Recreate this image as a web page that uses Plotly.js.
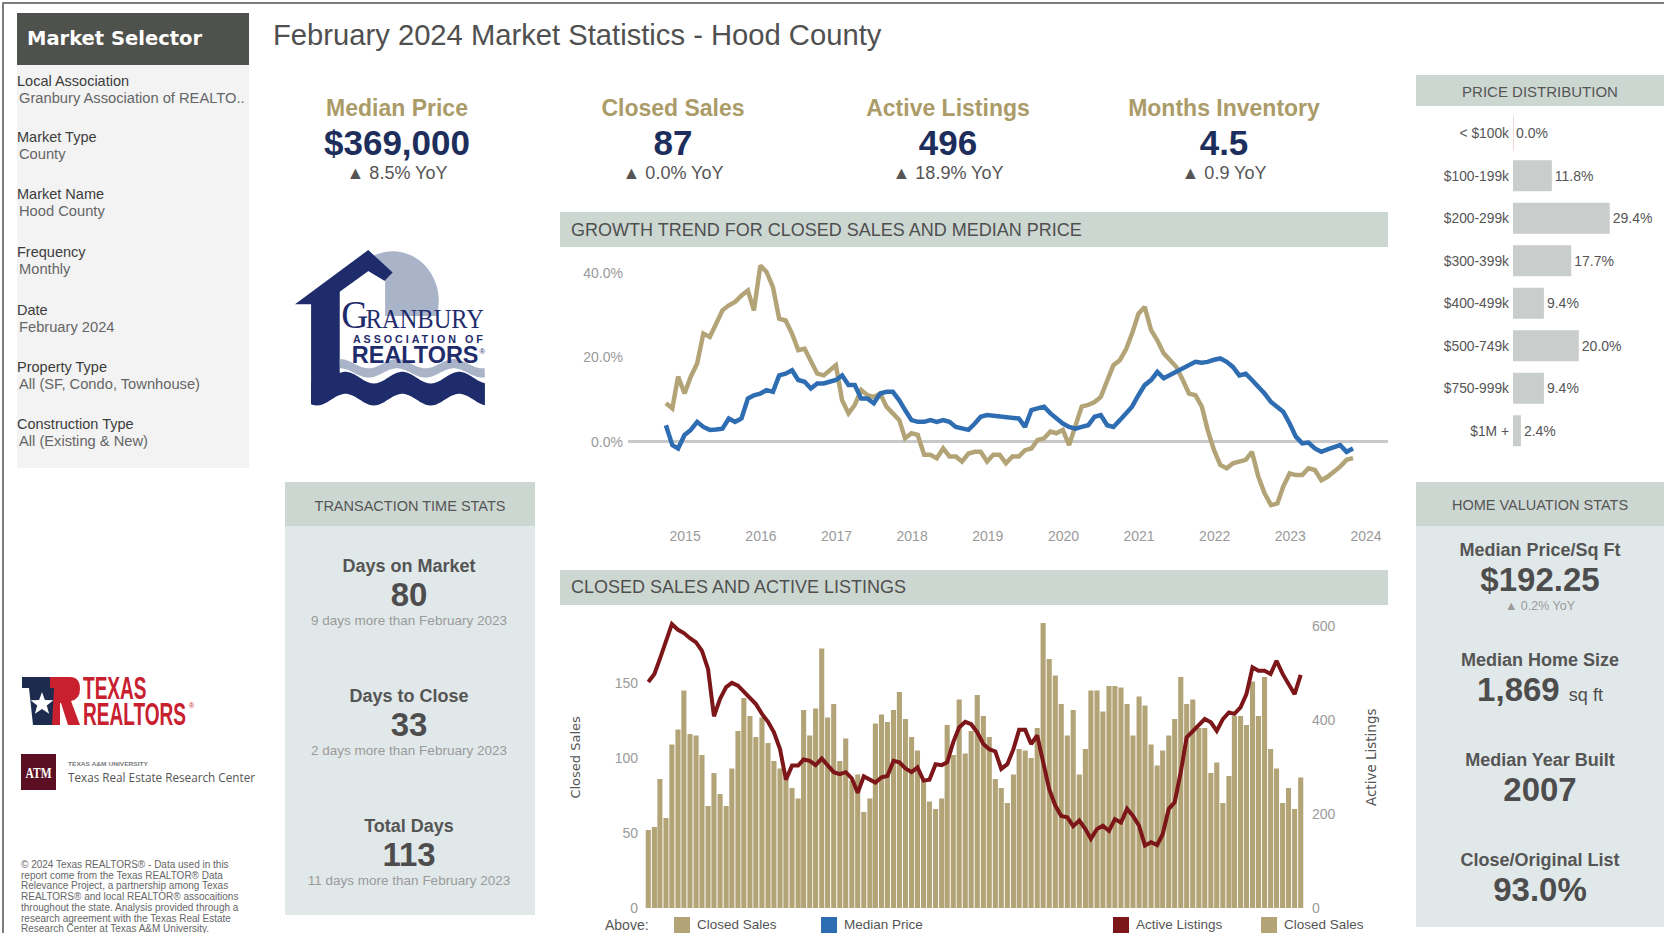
<!DOCTYPE html>
<html>
<head>
<meta charset="utf-8">
<script src="https://cdn.plot.ly/plotly-3.0.1.min.js"></script>
<style>
  body { margin: 0; background: #fff; }
  #page { position: relative; width: 1664px; height: 933px; overflow: hidden; font-family: Arial, "Liberation Sans", sans-serif; background: #fff; }
  .t { position: absolute; white-space: nowrap; line-height: 1; }
  .c { transform: translate(-50%, -50%); }
  .l { transform: translate(0, -50%); }
  .box { position: absolute; }
  .chart { position: absolute; }
  .fit { position: absolute; white-space: pre; transform-origin: 0 0; overflow: visible; }
</style>
</head>
<body>
<div id="page"></div>
<script>
// ------------------------------------------------------------------ data
const sidebarLabels = ["Local Association", "Market Type", "Market Name", "Frequency", "Date", "Property Type", "Construction Type"];
const sidebarValues = ["Granbury Association of REALTO..", "County", "Hood County", "Monthly", "February 2024", "All (SF, Condo, Townhouse)", "All (Existing & New)"];

const kpiTitles = ["Median Price", "Closed Sales", "Active Listings", "Months Inventory"];
const kpiValues = ["$369,000", "87", "496", "4.5"];
const kpiChanges = ["8.5% YoY", "0.0% YoY", "18.9% YoY", "0.9 YoY"];

const timeTitles = ["Days on Market", "Days to Close", "Total Days"];
const timeValues = ["80", "33", "113"];
const timeNotes = ["9 days more than February 2023", "2 days more than February 2023", "11 days more than February 2023"];

const valuationTitles = ["Median Price/Sq Ft", "Median Home Size", "Median Year Built", "Close/Original List"];
const valuationValues = ["$192.25", "1,869", "2007", "93.0%"];
const valuationUnits = ["", "sq ft", "", ""];
const valuationNotes = ["0.2% YoY", "", "", ""];

const priceCategories = ["< $100k", "$100-199k", "$200-299k", "$300-399k", "$400-499k", "$500-749k", "$750-999k", "$1M +"];
const priceShares = [0.0, 11.8, 29.4, 17.7, 9.4, 20.0, 9.4, 2.4];

// monthly series, Jan 2015 .. Feb 2024
const START_YEAR = 2015, N_MONTHS = 110;
const months = Array.from({length: N_MONTHS}, (_, i) =>
  `${START_YEAR + Math.floor(i / 12)}-${String(i % 12 + 1).padStart(2, "0")}-01`);

const closedSalesGrowth = [
  9.1, 7.9, 15.4, 11.4, 15.4, 18.5, 25.6, 24.8, 28, 31.1,
  32.3, 33.1, 34.6, 35.8, 31.1, 41.7, 40.2, 36.6, 29.1, 28.7,
  25.6, 21.7, 22, 19.3, 16.1, 15.7, 17.0, 18.1, 9.8, 6.7,
  8.7, 12.2, 11, 10.6, 11.4, 8.3, 6.7, 5.1, 0.8, 2,
  1.6, -3.1, -3.1, -3.9, -1.6, -3.5, -3.5, -4.7, -2.8, -2.4,
  -2.4, -4.7, -3.1, -3.1, -5.1, -3.5, -3.5, -2, -1.6, 0.4,
  0.8, 2.4, 2, 2.8, -0.8, 4.3, 8.3, 8.7, 9.4, 10.6,
  14.2, 18.1, 19.3, 22, 25.6, 30.3, 31.9, 26.4, 24, 20.9,
  19.3, 17.7, 14.6, 11.4, 11, 8.3, 2.8, -2, -5.5, -6.3,
  -5.1, -4.7, -4.3, -2.4, -8.3, -12.2, -15, -14.6, -10.6, -7.5,
  -7.9, -7.9, -6.3, -6.7, -9.1, -8.3, -7.1, -5.9, -4.3, -3.9];

const medianPriceGrowth = [
  3.9, -0.8, -1.6, 1.6, 2.8, 4.7, 3.5, 2.8, 2.9, 3.1,
  5.5, 4.7, 5.5, 10.2, 11, 11.4, 12.2, 11.8, 15.7, 16.1,
  16.9, 14.6, 14.2, 12.6, 13.8, 13.8, 14.2, 14.6, 15.7, 13.4,
  13.4, 10.2, 10.2, 9.1, 11.4, 11.8, 11.8, 9.8, 7.5, 5.1,
  4.7, 4.7, 5.1, 4.7, 5.1, 4.7, 3.5, 3.1, 2.8, 4.3,
  5.9, 6.3, 6.1, 6.1, 5.9, 5.7, 5.5, 3.5, 7.5, 7.9,
  8.3, 6.7, 5.5, 4.3, 3.5, 3.1, 3.5, 3.9, 5.9, 6.3,
  3.9, 3.5, 5.1, 6.7, 8.3, 11, 13.4, 14.6, 16.5, 15,
  15.8, 16.5, 17.3, 18.1, 18.9, 18.7, 18.9, 19.4, 19.7, 18.9,
  17.7, 15.7, 16.1, 14.6, 13, 11.4, 9.4, 8.3, 7.1, 4.3,
  1.2, -0.4, -0.2, -1.6, -2.4, -1.8, -1.2, -0.8, -2.4, -1.6];

const closedSales = [
  52, 54, 86, 60, 109, 119, 145, 116, 115, 102,
  68, 90, 76, 68, 93, 118, 140, 128, 114, 127,
  110, 98, 93, 87, 80, 73, 132, 115, 133, 173,
  127, 136, 98, 113, 85, 89, 64, 73, 123, 129,
  124, 132, 144, 126, 114, 105, 85, 71, 66, 73,
  122, 102, 139, 103, 118, 142, 128, 114, 86, 80,
  70, 89, 106, 105, 100, 120, 190, 166, 155, 136,
  115, 132, 89, 106, 145, 145, 131, 148, 148, 147,
  136, 115, 141, 135, 109, 95, 105, 115, 126, 154,
  136, 139, 120, 120, 90, 97, 70, 88, 128, 128,
  122, 151, 128, 154, 106, 93, 70, 80, 66, 87];

const activeListings = [
  481, 498, 530, 569, 604, 592, 585, 574, 565, 547,
  508, 408, 445, 470, 479, 473, 460, 448, 434, 413,
  396, 374, 338, 273, 303, 303, 316, 313, 304, 318,
  304, 289, 285, 289, 276, 245, 280, 274, 267, 278,
  281, 313, 310, 297, 289, 299, 271, 273, 306, 304,
  310, 353, 384, 396, 391, 374, 349, 338, 333, 296,
  306, 338, 379, 379, 349, 367, 310, 253, 218, 196,
  193, 174, 186, 168, 147, 168, 175, 164, 189, 182,
  211, 196, 175, 133, 140, 134, 157, 211, 225, 289,
  363, 377, 389, 402, 395, 377, 402, 416, 413, 427,
  455, 512, 505, 505, 498, 526, 498, 477, 455, 496];

const growthYearLabels = ["2015", "2016", "2017", "2018", "2019", "2020", "2021", "2022", "2023", "2024"];
const growthTickLabels = ["0.0%", "20.0%", "40.0%"];
const growthTickValues = [0, 20, 40];
const salesTickValues = [0, 50, 100, 150];
const listingTickValues = [0, 200, 400, 600];

const copyrightLines = [
  "\u00a9 2024 Texas REALTORS\u00ae - Data used in this",
  "report come from the Texas REALTOR\u00ae Data",
  "Relevance Project, a partnership among Texas",
  "REALTORS\u00ae and local REALTOR\u00ae assocaitions",
  "throughout the state. Analysis provided through a",
  "research agreement with the Texas Real Estate",
  "Research Center at Texas A&M University."];

// ------------------------------------------------------------------ colours
const GOLD = "#b3a477", BLUE = "#2f6db2", RED = "#7c1619";
const HEADER = "#cdd7d2", PANEL = "#e1e8e9", GREY = "#555555", LIGHT = "#9a9a9a";
const FONT = 'Arial, "Liberation Sans", sans-serif';

// ------------------------------------------------------------------ helpers
const page = document.getElementById("page");
function box(x, y, w, h, bg, z) {
  const d = document.createElement("div");
  d.className = "box";
  Object.assign(d.style, {left: x + "px", top: y + "px", width: w + "px", height: h + "px", background: bg, zIndex: z || 0});
  page.appendChild(d);
  return d;
}
function txt(x, y, s, o) {
  o = o || {};
  const d = document.createElement("div");
  d.className = "t " + (o.a || "c");
  Object.assign(d.style, {left: x + "px", top: y + "px", fontSize: (o.s || 14) + "px", color: o.c || GREY, zIndex: 5});
  if (o.b) d.style.fontWeight = "bold";
  if (o.f) d.style.fontFamily = o.f;
  if (o.html) d.innerHTML = s; else d.textContent = s;
  page.appendChild(d);
  return d;
}
// text squeezed horizontally so that its widest line gets a given width
function fitTxt(x, top, s, size, lineH, targetW, color, bold) {
  const d = document.createElement("div");
  d.className = "fit";
  Object.assign(d.style, {left: x + "px", top: top + "px", fontSize: size + "px", lineHeight: lineH + "px",
                          color: color, fontWeight: bold ? "bold" : "normal", zIndex: 5});
  d.textContent = s;
  page.appendChild(d);
  const w = d.scrollWidth;
  d.style.transform = `scaleX(${targetW / w})`;
  return d;
}

// ------------------------------------------------------------------ frame
box(3, 2, 1661, 2, "#7d7d7d");
box(2, 2, 2, 931, "#7d7d7d");

// sidebar
box(17, 13, 232, 52, "#4f514c");
box(17, 65, 232, 403, "#f3f3f3");
txt(27, 39, "Market Selector", {a: "l", s: 19.5, b: true, c: "#ffffff", f: '"DejaVu Sans", Verdana, sans-serif'});
const sideLabelY = [81, 137, 194, 252, 310, 367, 424];
sidebarLabels.forEach((lab, i) => {
  txt(17, sideLabelY[i], lab, {a: "l", s: 14.5, c: "#3c3c3c"});
  txt(19, sideLabelY[i] + 16.5, sidebarValues[i], {a: "l", s: 14.7, c: "#666666"});
});

// title
txt(273, 36, "February 2024 Market Statistics - Hood County", {a: "l", s: 29.2, c: "#505050"});

// KPIs
const kpiX = [397, 673, 948, 1224];
kpiTitles.forEach((t, i) => {
  txt(kpiX[i], 108, t, {s: 23, b: true, c: "#ab9b68"});
  txt(kpiX[i], 141.5, kpiValues[i], {s: 35, b: true, c: "#1d2e5c"});
  txt(kpiX[i], 173, "\u25B2 " + kpiChanges[i], {s: 18, c: GREY});
});

// section headers
box(560, 212, 828, 35, HEADER);
txt(571, 230, "GROWTH TREND FOR CLOSED SALES AND MEDIAN PRICE", {a: "l", s: 18, c: "#4f4f4f"});
box(560, 570, 828, 35, HEADER);
txt(571, 587, "CLOSED SALES AND ACTIVE LISTINGS", {a: "l", s: 18, c: "#4f4f4f"});

// transaction time stats
box(285, 482, 250, 44, HEADER);
box(285, 526, 250, 389, PANEL);
txt(410, 506, "TRANSACTION TIME STATS", {s: 14.5, c: GREY});
const timeY = [566, 696, 826];
timeTitles.forEach((t, i) => {
  txt(409, timeY[i], t, {s: 18, b: true, c: GREY});
  txt(409, timeY[i] + 28, timeValues[i], {s: 33, b: true, c: "#4d4d4d"});
  txt(409, timeY[i] + 55, timeNotes[i], {s: 13.5, c: LIGHT});
});

// price distribution header
box(1416, 75, 248, 31, HEADER);
txt(1540, 90.5, "PRICE DISTRIBUTION", {s: 15, c: GREY});

// home valuation stats
box(1416, 482, 248, 44, HEADER);
box(1416, 526, 248, 401, PANEL);
txt(1540, 505, "HOME VALUATION STATS", {s: 14.5, c: GREY});
const valY = [550, 660, 760, 860];
valuationTitles.forEach((t, i) => {
  txt(1540, valY[i], t, {s: 18, b: true, c: GREY});
  const unit = valuationUnits[i] ? ' <span style="font-size:18px;font-weight:normal">' + valuationUnits[i] + '</span>' : "";
  txt(1540, valY[i] + 29, valuationValues[i] + unit, {s: 33, b: true, c: "#4d4d4d", html: true});
  if (valuationNotes[i]) txt(1540, valY[i] + 56, "\u25B2 " + valuationNotes[i], {s: 12.5, c: LIGHT});
});

// bar-chart legend
txt(605, 925, "Above:", {a: "l", s: 14, c: GREY});
const legendItems = [[674, GOLD, "Closed Sales"], [821, BLUE, "Median Price"], [1113, RED, "Active Listings"], [1261, GOLD, "Closed Sales"]];
legendItems.forEach(([x, col, lab]) => {
  box(x, 917, 16, 16, col, 6);
  txt(x + 23, 925, lab, {a: "l", s: 13.5, c: GREY});
});

// copyright
copyrightLines.forEach((line, i) => txt(21, 865 + i * 10.7, line, {a: "l", s: 10, c: "#666666"}));

// Texas REALTORS wordmark: one two-line text block, condensed
fitTxt(83, 676.1, "TEXAS\nREALTORS", 32, 25.5, 103, "#c8202f", true);
fitTxt(189, 702, "\u00ae", 7, 7, 5, "#c8202f", false);

// ------------------------------------------------------------------ logos (svg)
function wave(x0, x1, yTop, yBot, amp, period, phase) {
  const pts = [];
  for (let x = x0; x <= x1; x += 1) pts.push([x, yTop - amp * Math.cos(2 * Math.PI * (x - phase) / period)]);
  for (let x = x1; x >= x0; x -= 1) pts.push([x, yBot - amp * Math.cos(2 * Math.PI * (x - phase) / period)]);
  return pts.map(p => p[0].toFixed(1) + "," + p[1].toFixed(1)).join(" ");
}
function star(cx, cy, R, r) {
  const p = [];
  for (let k = 0; k < 10; k++) {
    const a = -Math.PI / 2 + k * Math.PI / 5, rr = k % 2 ? r : R;
    p.push((cx + rr * Math.cos(a)).toFixed(1) + "," + (cy + rr * Math.sin(a)).toFixed(1));
  }
  return p.join(" ");
}
const NAVY = "#1f2c6c";
const svg = `
<svg width="1664" height="933" style="position:absolute;left:0;top:0;z-index:3" xmlns="http://www.w3.org/2000/svg">
  <defs><clipPath id="sunclip"><rect x="330" y="240" width="100" height="71"/></clipPath></defs>
  <g transform="translate(295,250) scale(1.073,1.16) translate(-290,-254)">
    <circle cx="381" cy="298" r="43" fill="#a9b4c9" clip-path="url(#sunclip)"/>
    <polygon points="331.7,290 358.3,272 374,281 374,313 331.7,313" fill="#fff"/>
    <polygon points="290,300.7 358.3,254 381,273.5 373.5,280.5 358.3,272 331.7,290 331.7,373 305,387 305,300.7" fill="${NAVY}"/>
    <polygon points="${wave(331.7, 467, 352, 360, 4, 53, 332)}" fill="#a9b4c9"/>
    <polygon points="${wave(305, 467, 364, 383, 5, 53, 337)}" fill="${NAVY}"/>
    <text font-family="'Liberation Serif','DejaVu Serif',serif" fill="${NAVY}"><tspan x="333" y="321.5" font-size="35">G</tspan><tspan x="356" y="321.5" font-size="24" textLength="110" lengthAdjust="spacingAndGlyphs">RANBURY</tspan></text>
    <text font-family="Arial,'Liberation Sans',sans-serif" font-weight="bold" fill="${NAVY}"><tspan x="344" y="334.5" font-size="10" textLength="121" lengthAdjust="spacing">ASSOCIATION OF</tspan><tspan x="343" y="351.7" font-size="20" textLength="118" lengthAdjust="spacingAndGlyphs">REALTORS</tspan><tspan x="462" y="344" font-size="7" font-weight="normal">\u00ae</tspan></text>
  </g>

  <polygon points="22,677 54,677 54,725 33,725 29,688 22,688" fill="#1c2b4e"/>
  <polygon points="${star(42, 704, 12, 5)}" fill="#fff"/>
  <path d="M50,677 L70,677 Q80,677 80,689 Q80,699 71,701 L80,725 L68,725 L61,703 L60,703 L60,725 L52,725 L54,688 L50,688 Z" fill="#c8202f"/>

  <rect x="21" y="754" width="35" height="36" fill="#5b0f22"/>
  <text x="38.5" y="778" text-anchor="middle" font-family="'Liberation Serif',serif" font-weight="bold" font-size="15" fill="#fff" textLength="26" lengthAdjust="spacingAndGlyphs">ATM</text>
  <text x="68" y="765.5" font-family="Arial,sans-serif" font-weight="bold" font-size="6" fill="#7a7a7a" textLength="80" lengthAdjust="spacingAndGlyphs">TEXAS A&amp;M UNIVERSITY</text>
  <text x="68" y="782" font-family="'Open Sans',Arial,sans-serif" font-size="13" fill="#555" textLength="187" lengthAdjust="spacingAndGlyphs">Texas Real Estate Research Center</text>
</svg>`;
page.insertAdjacentHTML("beforeend", svg);

// ------------------------------------------------------------------ charts
function chartDiv(x, y, w, h) {
  const d = document.createElement("div");
  d.className = "chart";
  Object.assign(d.style, {left: x + "px", top: y + "px", width: w + "px", height: h + "px", zIndex: 4});
  page.appendChild(d);
  return d;
}
const config = {staticPlot: true, displayModeBar: false, responsive: false};

// growth trend
const growthDiv = chartDiv(560, 247, 828, 300);
Plotly.newPlot(growthDiv, [
  {type: "scatter", mode: "lines", x: months, y: closedSalesGrowth, name: "Closed Sales",
   line: {color: GOLD, width: 4.5}, hoverinfo: "skip"},
  {type: "scatter", mode: "lines", x: months, y: medianPriceGrowth, name: "Median Price",
   line: {color: BLUE, width: 4.5}, hoverinfo: "skip"}
], {
  width: 828, height: 300,
  margin: {l: 68, r: 0, t: 8, b: 23, pad: 0},
  paper_bgcolor: "rgba(0,0,0,0)", plot_bgcolor: "rgba(0,0,0,0)",
  showlegend: false,
  font: {family: FONT, color: LIGHT, size: 14},
  xaxis: {type: "date", range: ["2014-07-02", "2024-07-19"], showgrid: false, zeroline: false, showline: false,
          tickvals: growthYearLabels.map(y => y + "-04-04"), ticktext: growthYearLabels, ticks: "",
          tickfont: {size: 14, color: LIGHT}, ticklabelstandoff: 2},
  yaxis: {range: [-19.48, 44.2], showgrid: false, zeroline: true, zerolinecolor: "#c8c8c8", zerolinewidth: 3,
          showline: false, tickvals: growthTickValues, ticktext: growthTickLabels, ticks: "",
          tickfont: {size: 14, color: LIGHT}, ticklabelstandoff: 4}
}, config);

// closed sales & active listings
const barDiv = chartDiv(560, 605, 828, 328);
Plotly.newPlot(barDiv, [
  {type: "bar", x: months, y: closedSales, name: "Closed Sales", marker: {color: GOLD},
   width: 26 * 86400000, hoverinfo: "skip"},
  {type: "scatter", mode: "lines", x: months, y: activeListings, name: "Active Listings", yaxis: "y2",
   line: {color: RED, width: 4}, hoverinfo: "skip"}
], {
  width: 828, height: 328,
  margin: {l: 82, r: 81, t: 10, b: 25, pad: 0},
  paper_bgcolor: "rgba(0,0,0,0)", plot_bgcolor: "rgba(0,0,0,0)",
  showlegend: false,
  font: {family: FONT, color: LIGHT, size: 14},
  xaxis: {type: "date", range: ["2014-11-30", "2024-03-04"], showgrid: false, zeroline: false, showline: false,
          showticklabels: false, ticks: ""},
  yaxis: {range: [0, 195.3], showgrid: false, zeroline: false, showline: false, tickvals: salesTickValues,
          ticks: "", tickfont: {size: 14, color: LIGHT}, ticklabelstandoff: 3},
  yaxis2: {range: [0, 623.4], overlaying: "y", side: "right", showgrid: false, zeroline: false, showline: false,
           tickvals: listingTickValues, ticks: "", tickfont: {size: 14, color: LIGHT}, ticklabelstandoff: 4},
  annotations: [
    {text: "Closed Sales", xref: "paper", yref: "paper", x: -0.1, y: 0.515, textangle: -90, showarrow: false,
     xanchor: "center", yanchor: "middle", font: {family: '"DejaVu Sans", Verdana, sans-serif', size: 13, color: GREY}},
    {text: "Active Listings", xref: "paper", yref: "paper", x: 1.0962, y: 0.515, textangle: -90, showarrow: false,
     xanchor: "center", yanchor: "middle", font: {family: '"DejaVu Sans", Verdana, sans-serif', size: 13.5, color: GREY}}
  ]
}, config);

// price distribution
const priceDiv = chartDiv(1416, 106, 248, 350);
Plotly.newPlot(priceDiv, [{
  type: "bar", orientation: "h", y: priceCategories, x: priceShares,
  marker: {color: "#c9cdcc"}, width: 0.73,
  text: priceShares.map(v => v.toFixed(1) + "%"), textposition: "outside", cliponaxis: false,
  textfont: {family: FONT, size: 14, color: GREY}, hoverinfo: "skip"
}], {
  width: 248, height: 350,
  margin: {l: 97, r: 0, t: 6, b: 4, pad: 0},
  paper_bgcolor: "rgba(0,0,0,0)", plot_bgcolor: "rgba(0,0,0,0)",
  showlegend: false,
  font: {family: FONT, color: GREY, size: 13.5},
  xaxis: {range: [0, 45.9], visible: false},
  yaxis: {type: "category", autorange: "reversed", showgrid: false, zeroline: false, showline: false, ticks: "",
          tickfont: {size: 13.8, color: GREY}, ticklabelstandoff: 3},
  shapes: [{type: "line", xref: "x", yref: "y", x0: 0, x1: 0, y0: -0.42, y1: 0.42,
            line: {color: "#d9b8b0", width: 1}}]
}, config);
</script>
</body>
</html>
